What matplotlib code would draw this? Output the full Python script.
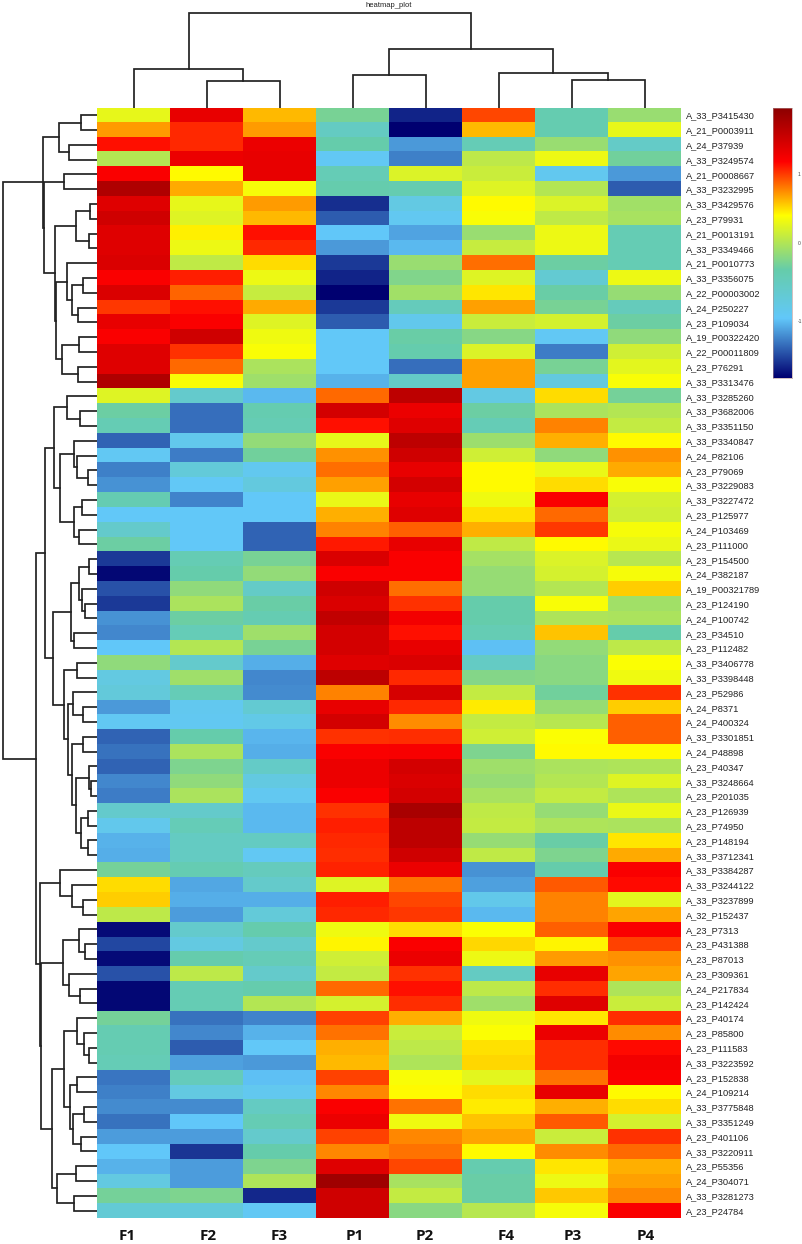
import numpy as np
import matplotlib
matplotlib.use("Agg")
import matplotlib.pyplot as plt
from matplotlib.colors import LinearSegmentedColormap

row_labels = """A_33_P3415430 A_21_P0003911 A_24_P37939 A_33_P3249574 A_21_P0008667 A_33_P3232995 A_33_P3429576 A_23_P79931
A_21_P0013191 A_33_P3349466 A_21_P0010773 A_33_P3356075 A_22_P00003002 A_24_P250227 A_23_P109034 A_19_P00322420
A_22_P00011809 A_23_P76291 A_33_P3313476 A_33_P3285260 A_33_P3682006 A_33_P3351150 A_33_P3340847 A_24_P82106
A_23_P79069 A_33_P3229083 A_33_P3227472 A_23_P125977 A_24_P103469 A_23_P111000 A_23_P154500 A_24_P382187
A_19_P00321789 A_23_P124190 A_24_P100742 A_23_P34510 A_23_P112482 A_33_P3406778 A_33_P3398448 A_23_P52986
A_24_P8371 A_24_P400324 A_33_P3301851 A_24_P48898 A_23_P40347 A_33_P3248664 A_23_P201035 A_23_P126939
A_23_P74950 A_23_P148194 A_33_P3712341 A_33_P3384287 A_33_P3244122 A_33_P3237899 A_32_P152437 A_23_P7313
A_23_P431388 A_23_P87013 A_23_P309361 A_24_P217834 A_23_P142424 A_23_P40174 A_23_P85800 A_23_P111583
A_33_P3223592 A_23_P152838 A_24_P109214 A_33_P3775848 A_33_P3351249 A_23_P401106 A_33_P3220911 A_23_P55356
A_24_P304071 A_33_P3281273 A_23_P24784""".split()

col_labels = ["F1", "F2", "F3", "P1", "P2", "F4", "P3", "P4"]

F1 = [.27,.7,1.12,0,1.2,1.7,1.38,1.5,1.38,1.38,1.42,1.2,1.42,1.0,1.33,1.2,1.38,1.38,1.7,.22,-.36,-.48,-1.53,-1.03,-1.4,-1.33,-.46,-1.08,-.68,-.36,-1.7,-1.92,-1.6,-1.7,-1.33,-1.37,-1.1,-.17,-.88,-.82,-1.3,-1.03,-1.53,-1.46,-1.53,-1.37,-1.42,-.7,-.98,-1.18,-1.2,-.32,.5,.55,.06,-1.9,-1.65,-1.9,-1.6,-1.92,-1.92,-.32,-.47,-.47,-.5,-1.44,-1.4,-1.35,-1.47,-1.28,-1.1,-1.18,-.88,-.32,-.77]
F2 = [1.33,1.05,1.05,1.3,.4,.65,.27,.22,.43,.3,.07,1.08,.87,1.12,1.2,1.5,1.02,.85,.36,-.7,-1.48,-1.48,-.98,-1.42,-.8,-1.06,-1.38,-1.08,-1.08,-1.08,-.48,-.4,-.17,-.04,-.36,-.52,0,-.7,-.1,-.52,-1.0,-1.02,-.4,-.04,-.27,-.17,-.04,-.68,-.52,-.6,-.6,-.47,-1.24,-1.2,-1.28,-.7,-.88,-.42,.06,-.48,-.48,-1.47,-1.37,-1.55,-1.27,-.55,-.88,-1.35,-1.1,-1.28,-1.72,-1.28,-1.28,-.27,-.82]
F3 = [.6,.7,1.3,1.33,1.33,.35,.7,.6,1.12,1.05,.5,.3,.1,.65,.22,.32,.36,-.04,-.1,-1.15,-.45,-.48,-.16,-.33,-1.0,-.85,-1.08,-1.08,-1.53,-1.53,-.3,-.16,-.65,-.38,-.46,-.1,-.3,-1.2,-1.37,-1.35,-.75,-.92,-1.17,-1.2,-.65,-.88,-1.02,-1.15,-1.15,-.6,-1.04,-.56,-.68,-1.2,-.8,-.42,-.7,-.52,-.68,-.42,0,-1.38,-1.18,-1.08,-1.3,-1.13,-1.0,-.6,-.48,-.7,-.4,-.27,-.02,-1.78,-1.05]
P1 = [-.3,-.6,-.4,-1.05,-.5,-.42,-1.75,-1.55,-1.1,-1.3,-1.7,-1.8,-1.96,-1.7,-1.55,-1.08,-1.08,-1.08,-1.18,.85,1.47,1.12,.27,.72,.83,.68,.28,.63,.78,1.1,1.42,1.2,1.5,1.42,1.58,1.47,1.47,1.38,1.62,.78,1.33,1.47,1.02,1.2,1.3,1.3,1.2,1.02,1.08,1.05,1.04,1.07,.22,1.08,1.05,.32,.42,.15,.08,.85,.17,.97,.82,.63,.6,.97,.76,1.2,1.3,.97,.76,1.38,1.82,1.5,1.5]
P2 = [-1.8,-1.96,-1.3,-1.4,.2,-.45,-.9,-1.02,-1.25,-1.15,-.13,-.25,-.08,-.55,-.98,-.38,-.42,-1.48,-.65,1.62,1.3,1.38,1.62,1.5,1.33,1.47,1.33,1.38,.88,1.33,1.2,1.2,.83,1.02,1.25,1.12,1.33,1.42,1.05,1.44,1.05,.74,1.04,1.22,1.47,1.42,1.47,1.75,1.62,1.62,1.5,1.3,.82,.95,1.0,.5,1.2,1.3,1.02,1.12,1.04,.63,.12,.06,-.02,.36,.4,.82,.32,.76,.82,.95,-.06,.08,-.2]
F4 = [.95,.6,-.5,.05,.12,.22,.4,.36,-.13,.1,.83,.22,.46,.68,.12,-.22,.2,.68,.68,-.9,-.36,-.5,-.12,.15,.4,.4,.32,.48,.63,.07,-.07,-.15,-.15,-.4,-.41,-.48,-1.13,-.62,-.24,.08,.45,.08,.15,-.27,-.1,-.15,-.06,.07,.09,-.15,.07,-1.33,-1.27,-.95,-1.15,.38,.52,.3,-.6,.06,-.1,.32,.38,.48,.52,.25,.5,.45,.58,.67,.4,-.43,-.37,-.37,.02]
P3 = [-.45,-.45,-.13,.3,-1.0,0,.2,.07,.3,.3,-.36,-.75,-.37,-.3,.18,-1.05,-1.42,-.3,-.85,.5,-.04,.77,.63,-.17,.28,.5,1.2,.85,1.0,.4,.2,.17,0,.36,-.02,.58,-.16,-.2,-.2,-.33,-.15,.03,.38,.4,-.04,0,.08,-.15,-.02,-.38,-.27,-.4,.9,.78,.78,.88,.42,.7,1.33,1.04,1.38,.47,1.3,1.04,1.04,.82,1.33,.63,.9,.12,.74,.47,.3,.56,.34]
P4 = [-.13,.27,-.65,-.33,-1.3,-1.55,-.08,-.05,-.48,-.48,-.48,.3,-.15,-.55,-.36,-.18,.15,.25,.36,-.32,0,.08,.4,.72,.65,.36,.17,.15,.34,.28,.02,.34,.55,-.08,-.04,-.4,.06,.37,.32,1.02,.55,.88,.88,.4,-.02,.22,-.02,.28,-.04,.47,.65,1.2,1.14,.25,.67,1.2,.97,.72,.67,-.02,.12,1.04,.74,1.14,1.25,1.2,.4,.5,.17,1.02,.85,.63,.68,.76,1.2]

# Dendrograms: (merge height, child, child); an integer is a leaf index (1-based)
col_tree = (94.7, (38.7, 1, (26.7, 2, 3)),
            (58.7, (32.7, 4, 5), (34.7, 6, (27.7, 7, 8))))


def P(h, a, b):
    return (97.3 - h, a, b)

sub_A = P(58.7, P(80.7, 1, 2), P(69.3, 3, 4))
sub_B = P(54.8,
          P(76.0, P(90.3, 7, 8), P(89.3, 9, 10)),
          P(56.3,
            P(66.7, 11, P(72.3, P(82.7, 12, 13), P(78.3, 14, 15))),
            P(62.5, P(79.4, 16, 17), P(78.3, 18, 19))))
sub_top = P(43.3, sub_A, P(44.0, P(64.0, 5, 6), sub_B))
sub_K = P(53.8,
          P(66.6, 20, P(80.4, 21, 22)),
          P(60.4,
            P(74.2, 23, P(76.8, 24, P(88.0, 25, 26))),
            P(74.2, P(82.0, 27, 28), P(79.4, 29, 30))))
sub_M = P(71.0,
          P(79.3, P(89.0, 31, 32), P(81.7, 33, P(85.0, 34, 35))),
          P(74.0, 36, 37))
sub_R = P(71.7,
          P(82.7, 43, 44),
          P(76.0, P(89.0, 45, P(90.7, 46, 47)),
            P(81.0, P(88.3, 48, 49), P(87.7, 50, 51))))
sub_N = P(64.0, P(76.7, 38, 39), P(67.7, P(73.3, 40, P(83.3, 41, 42)), sub_R))
sub_J = P(45.0, sub_K, P(53.3, sub_M, sub_N))
sub_T = P(60.0, 52, P(71.7, 53, P(82.7, 54, 55)))
sub_V = P(63.3, P(79.3, 56, P(85.0, 57, 58)), P(69.3, 59, P(80.0, 60, 61)))
sub_X = P(77.3, 62, P(84.0, 63, P(89.3, 64, 65)))
sub_Y = P(70.0, P(77.3, 66, 67), P(73.3, P(84.0, 68, 69), P(80.7, 70, 71)))
sub_W = P(51.7, P(64.0, sub_X, sub_Y),
          P(57.3, P(75.7, 72, 73), P(74.0, 74, 75)))
row_tree = P(2.7, sub_top, P(36.0, sub_J, P(40.0, sub_T, P(41.3, sub_V, sub_W))))

colors = [(0.0, "#000070"), (0.22, "#62c8fa"), (0.40, "#66cdaa"),
          (0.60, "#ffff00"), (0.80, "#ff0000"), (1.0, "#8b0000")]
cmap = LinearSegmentedColormap.from_list("heat", colors, N=256)
VMIN, VMAX = -1.96, 1.96
cb_ticks = [-1.13, 0, 1]
cb_labels = ["-1", "0", "1"]

W, H = 803, 1244
fig = plt.figure(figsize=(W / 100, H / 100), dpi=100)
plt.rcParams["font.family"] = ["Liberation Sans", "DejaVu Sans"]


def axpx(x0, y0, x1, y1):
    return fig.add_axes([x0 / W, 1 - y1 / H, (x1 - x0) / W, (y1 - y0) / H])


HL, HR, HT, HB = 97.3, 681.0, 107.7, 1218.0
data = np.column_stack([F1, F2, F3, P1, P2, F4, P3, P4])
n_rows, n_cols = data.shape

ax = axpx(HL, HT, HR, HB)
ax.imshow(data, cmap=cmap, vmin=VMIN, vmax=VMAX, aspect="auto", interpolation="nearest")
for s in ax.spines.values():
    s.set_visible(False)
ax.set_xticks([])
ax.yaxis.tick_right()
ax.set_yticks(range(n_rows))
ax.set_yticklabels(row_labels, fontsize=6.7, color="#222222")
ax.tick_params(axis="y", length=0, pad=3.6)

LINE = dict(color="#222222", lw=1.25, solid_capstyle="projecting", solid_joinstyle="miter")


def draw(node, axis, horizontal):
    """Returns (leaf position, height) of a node, drawing it on the way."""
    if isinstance(node, int):
        return node - 1, 0.0
    h, a, b = node
    pa, ha = draw(a, axis, horizontal)
    pb, hb = draw(b, axis, horizontal)
    pos = [pa, pa, pb, pb]
    hts = [ha, h, h, hb]
    if horizontal:
        axis.plot(hts, pos, **LINE)
    else:
        axis.plot(pos, hts, **LINE)
    return (pa + pb) / 2, h


ax_top = axpx(HL, 0, HR, HT)
draw(col_tree, ax_top, False)
ax_top.set_xlim(-0.5, n_cols - 0.5)
ax_top.set_ylim(0, HT)
ax_top.axis("off")

ax_left = axpx(0, HT, HL, HB)
draw(row_tree, ax_left, True)
ax_left.set_xlim(HL, 0)
ax_left.set_ylim(n_rows - 0.5, -0.5)
ax_left.axis("off")

fig.text(389 / W, 1 - 5.2 / H, "heatmap_plot", fontsize=5.5, ha="center", va="center", color="#222222")

label_px = [127.5, 208, 279.6, 355, 424.5, 506, 573, 646]
for name, xp in zip(col_labels, label_px):
    fig.text(xp / W, 1 - 1236.5 / H, name, fontsize=11, fontweight="bold",
             family=["Open Sans", "DejaVu Sans"], ha="center", va="center", color="#111111")

ax_cb = axpx(773, 107.5, 791.6, 378)
grad = np.linspace(VMAX, VMIN, 256).reshape(-1, 1)
ax_cb.imshow(grad, cmap=cmap, vmin=VMIN, vmax=VMAX, aspect="auto",
             extent=[0, 1, VMIN, VMAX], interpolation="bilinear")
ax_cb.set_xticks([])
ax_cb.yaxis.tick_right()
ax_cb.set_yticks(cb_ticks)
ax_cb.set_yticklabels(cb_labels, fontsize=3.6, color="#444444")
ax_cb.tick_params(axis="y", length=0, pad=4.5)
for s in ax_cb.spines.values():
    s.set_linewidth(0.4)
    s.set_color("#b09090")

fig.savefig("out.png", dpi=100, facecolor="white")
